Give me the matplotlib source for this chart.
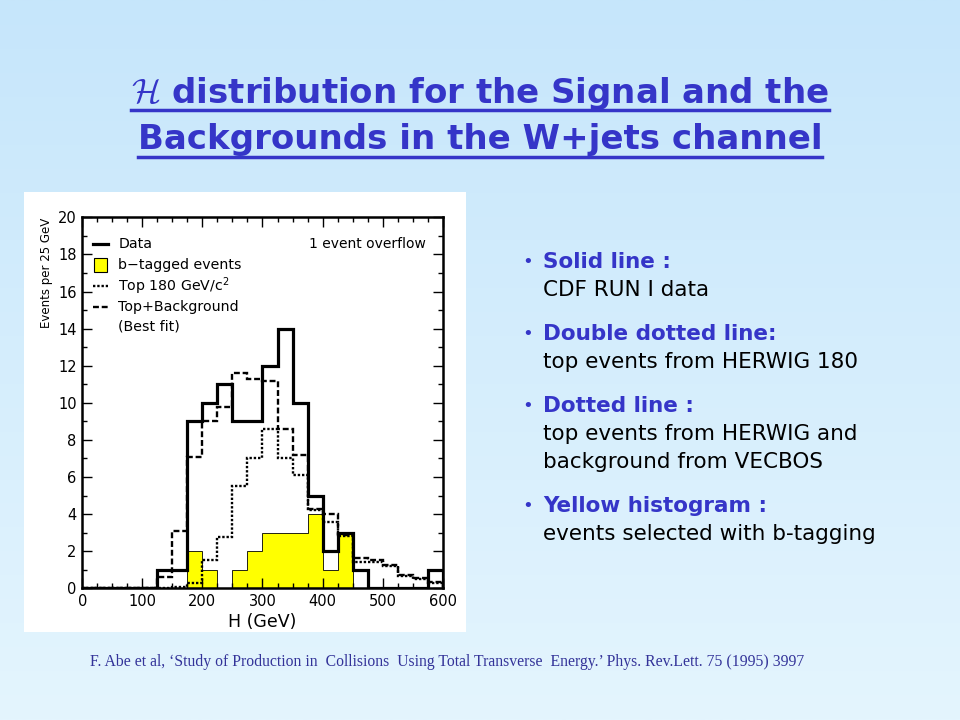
import numpy as np
import matplotlib.pyplot as plt
from matplotlib.lines import Line2D
from matplotlib.patches import Rectangle
from matplotlib.ticker import MultipleLocator

# 25 GeV bins from 0 to 600 GeV
edges = np.arange(0, 625, 25)
data = [0, 0, 0, 0, 0, 1, 1, 9, 10, 11, 9, 9, 12, 14, 10, 5, 2, 3, 1, 0, 0, 0, 0, 1]
btag = [0, 0, 0, 0, 0, 0, 0, 2, 1, 0, 1, 2, 3, 3, 3, 4, 1, 3, 0, 0, 0, 0, 0, 0]
top_bkg = [0, 0, 0, 0, 0, 0.6, 3.1, 7.1, 9.0, 9.8, 11.6, 11.3, 11.2, 8.6, 7.2, 4.3,
           4.0, 2.9, 1.65, 1.5, 1.25, 0.7, 0.55, 0.35]
top180 = [0, 0, 0, 0, 0, 0, 0.05, 0.3, 1.5, 2.75, 5.5, 7.0, 8.6, 7.0, 6.1, 4.2,
          3.55, 2.8, 1.4, 1.4, 1.2, 0.65, 0.5, 0.3]

title_lines = [r'$\mathcal{H}$ distribution for the Signal and the',
               'Backgrounds in the W+jets channel']
bullets = [
    ('Solid line :', ['CDF RUN I data']),
    ('Double dotted line:', ['top events from HERWIG 180']),
    ('Dotted line :', ['top events from HERWIG and', 'background from VECBOS']),
    ('Yellow histogram :', ['events selected with b-tagging']),
]
footer = ("F. Abe et al, \u2018Study of Production in  Collisions  Using Total "
          "Transverse  Energy.\u2019 Phys. Rev.Lett. 75 (1995) 3997")

blue = '#3535c8'
W, H = 960, 720


def fx(px):
    return px / W


def fy(py):
    return 1 - py / H


fig = plt.figure(figsize=(9.6, 7.2), dpi=100)

# slide background gradient
bg = fig.add_axes([0, 0, 1, 1], zorder=-10)
top_c = np.array([198, 230, 251]) / 255
bot_c = np.array([228, 245, 254]) / 255
t = np.linspace(0, 1, 256)[:, None, None]
grad = top_c * (1 - t) + bot_c * t
bg.imshow(grad, aspect='auto', extent=[0, 1, 0, 1])
bg.axis('off')

# white panel behind the plot
fig.add_artist(Rectangle((fx(24), fy(632)), fx(442), 440 / H,
                         transform=fig.transFigure, facecolor='white',
                         edgecolor='none', zorder=-5))

ax = fig.add_axes([fx(82.3), fy(588.3), fx(360.4), 371 / H])
ax.stairs(btag, edges, fill=True, facecolor='#ffff00', edgecolor='black', lw=0.6)
ax.stairs(top180, edges, color='black', lw=1.7, ls=(0, (1, 0.8)))
ax.stairs(top_bkg, edges, color='black', lw=1.7, ls=(0, (2.5, 1.2)))
ax.stairs(data, edges, color='black', lw=2.3)

ax.set_xlim(0, 600)
ax.set_ylim(0, 20)
ax.xaxis.set_major_locator(MultipleLocator(100))
ax.xaxis.set_minor_locator(MultipleLocator(25))
ax.yaxis.set_major_locator(MultipleLocator(2))
ax.yaxis.set_minor_locator(MultipleLocator(1))
ax.tick_params(which='both', direction='in', top=True, right=True, labelsize=10.5, width=1)
ax.tick_params(which='major', length=7, pad=4)
ax.tick_params(which='minor', length=3.5)
for s in ax.spines.values():
    s.set_linewidth(1.8)

ax.set_xlabel('H (GeV)', fontsize=12.5, labelpad=3)
ax.text(-0.10, 1.0, 'Events per 25 GeV', transform=ax.transAxes, rotation=90,
        ha='center', va='top', fontsize=8.5)

# legend drawn inside the frame
rows = [18.55, 17.43, 16.3, 15.18, 14.1]
ax.plot([18, 43], [rows[0]] * 2, color='black', lw=2.3)
ax.add_patch(Rectangle((19, rows[1] - 0.4), 22, 0.8, facecolor='#ffff00',
                       edgecolor='black', lw=0.8))
ax.plot([18, 43], [rows[2]] * 2, color='black', lw=1.7, ls=(0, (1, 0.8)))
ax.plot([18, 43], [rows[3]] * 2, color='black', lw=1.7, ls=(0, (2.5, 1.2)))
legend_txt = ['Data', 'b\u2212tagged events', r'Top 180 GeV/c$^2$',
              'Top+Background', '(Best fit)']
for y, s in zip(rows, legend_txt):
    ax.text(60, y, s, fontsize=10.2, va='center', ha='left')
ax.text(572, rows[0], '1 event overflow', fontsize=10, va='center', ha='right')

# title with underline
title_y = [93, 139]
under_y = [110, 157]
renderer = fig.canvas.get_renderer()
for s, ty, uy in zip(title_lines, title_y, under_y):
    tt = fig.text(0.5, fy(ty), s, ha='center', va='center', fontsize=24.5,
                  fontweight='bold', color=blue, math_fontfamily='cm')
    bb = tt.get_window_extent(renderer)
    fig.add_artist(Line2D([bb.x0 / W, bb.x1 / W], [fy(uy)] * 2,
                          transform=fig.transFigure, color=blue, lw=2.5))

# bullet text on the right
y = 262
for head, body in bullets:
    fig.text(fx(522), fy(y), '\u2022', fontsize=13, color=blue, va='center')
    fig.text(fx(543), fy(y), head, fontsize=15.5, fontweight='bold', color=blue,
             va='center')
    y += 28
    for line in body:
        fig.text(fx(543), fy(y), line, fontsize=15.5, color='black', va='center')
        y += 28
    y += 16

fig.text(fx(90), fy(662), footer, fontsize=11.3, family='Liberation Serif',
         color='#333399', va='center')

fig.savefig('out.png', dpi=100)
